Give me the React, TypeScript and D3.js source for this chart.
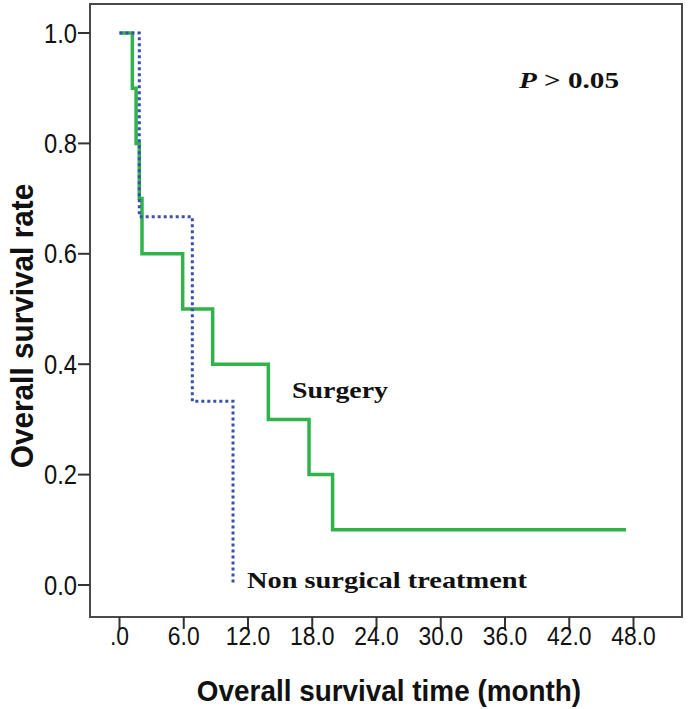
import React from "react";
import * as d3 from "d3";

const surgeryTimes = [0, 1.2, 1.55, 1.85, 2.1, 5.9, 8.7, 13.9, 17.7, 19.9, 47.3];
const surgerySurvival = [1.0, 0.9, 0.8, 0.7, 0.6, 0.5, 0.4, 0.3, 0.2, 0.1, 0.1];
const nonSurgTimes = [0, 1.85, 6.8, 10.6];
const nonSurgSurvival = [1.0, 0.667, 0.333, 0.0];
const xTicks = [0, 6, 12, 18, 24, 30, 36, 42, 48];
const xTickLabels = [".0", "6.0", "12.0", "18.0", "24.0", "30.0", "36.0", "42.0", "48.0"];
const yTicks = [0, 0.2, 0.4, 0.6, 0.8, 1.0];
const yTickLabels = ["0.0", "0.2", "0.4", "0.6", "0.8", "1.0"];

const W = 689;
const H = 709;
const frame = { left: 90, right: 682, top: 4, bottom: 617 };
const NX = 0.88;

export default function App() {
  const x = d3.scaleLinear().domain([0, 48]).range([119.5, 633.5]);
  const y = d3.scaleLinear().domain([0, 1]).range([585, 33]);
  const line = d3
    .line<[number, number]>()
    .x((d) => x(d[0]))
    .y((d) => y(d[1]))
    .curve(d3.curveStepAfter);
  const surg = surgeryTimes.map((t, i) => [t, surgerySurvival[i]] as [number, number]);
  const non = nonSurgTimes.map((t, i) => [t, nonSurgSurvival[i]] as [number, number]);
  const sans = "'Liberation Sans', Arial, sans-serif";
  const serif = "'Liberation Serif', 'Times New Roman', serif";

  return (
    <svg
      width={W}
      height={H}
      style={{ position: "absolute", left: 0, top: 0, background: "#fff" }}
    >
      <rect x={0} y={0} width={W} height={H} fill="#fff" />
      <rect
        x={frame.left}
        y={frame.top}
        width={frame.right - frame.left}
        height={frame.bottom - frame.top}
        fill="none"
        stroke="#4a4a4a"
        strokeWidth={2}
      />
      {yTicks.map((v, i) => (
        <g key={"y" + i}>
          <line x1={frame.left - 12} x2={frame.left} y1={y(v)} y2={y(v)} stroke="#333" strokeWidth={2} />
          <text
            transform={`translate(77,${y(v) + 9.5}) scale(${NX},1)`}
            textAnchor="end"
            fontFamily={sans}
            fontSize={27}
            fill="#111"
          >
            {yTickLabels[i]}
          </text>
        </g>
      ))}
      {xTicks.map((v, i) => (
        <g key={"x" + i}>
          <line x1={x(v)} x2={x(v)} y1={frame.bottom} y2={frame.bottom + 12} stroke="#333" strokeWidth={2} />
          <text
            transform={`translate(${x(v)},${frame.bottom + 28}) scale(${NX},1)`}
            textAnchor="middle"
            fontFamily={sans}
            fontSize={26}
            fill="#111"
          >
            {xTickLabels[i]}
          </text>
        </g>
      ))}
      <text
        transform={`translate(389,701) scale(0.93,1)`}
        textAnchor="middle"
        fontFamily={sans}
        fontWeight="bold"
        fontSize={30}
        fill="#111"
      >
        Overall survival time (month)
      </text>
      <text
        transform={`translate(33,326) rotate(-90) scale(0.93,1)`}
        textAnchor="middle"
        fontFamily={sans}
        fontWeight="bold"
        fontSize={32}
        fill="#111"
      >
        Overall survival rate
      </text>
      <path d={line(surg) || ""} fill="none" stroke="#2fb34a" strokeWidth={3.5} />
      <path
        d={line(non) || ""}
        fill="none"
        stroke="#3a50b0"
        strokeWidth={3}
        strokeDasharray="3,3"
      />
      <text x={292} y={398} fontFamily={serif} fontWeight="bold" fontSize={24} textLength={96} lengthAdjust="spacingAndGlyphs" fill="#111">
        Surgery
      </text>
      <text x={247} y={588} fontFamily={serif} fontWeight="bold" fontSize={24} textLength={280} lengthAdjust="spacingAndGlyphs" fill="#111">
        Non surgical treatment
      </text>
      <text x={519} y={88} fontFamily={serif} fontWeight="bold" fontSize={24} textLength={100} lengthAdjust="spacingAndGlyphs" fill="#111">
        <tspan fontStyle="italic">P</tspan>
        <tspan> &gt; 0.05</tspan>
      </text>
    </svg>
  );
}
